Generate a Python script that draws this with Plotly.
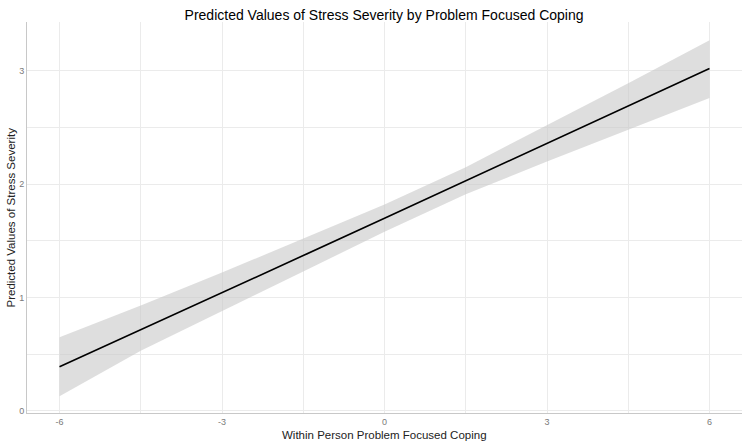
import plotly.graph_objects as go

# within-person problem focused coping (x) and predicted stress severity
coping = [-6, -4.5, -3, -1.5, 0, 1.5, 3, 4.5, 6]
predicted = [0.39, 0.715, 1.04, 1.37, 1.70, 2.03, 2.36, 2.69, 3.02]
ci_low = [0.13, 0.53, 0.88, 1.23, 1.58, 1.91, 2.20, 2.48, 2.76]
ci_high = [0.65, 0.93, 1.22, 1.52, 1.82, 2.15, 2.52, 2.89, 3.27]

x_ticks = [-6, -3, 0, 3, 6]
x_labels = ["-6", "-3", "0", "3", "6"]
y_ticks = [0, 1, 2, 3]

grid = "#ebebeb"
font = "Liberation Sans, Arial, sans-serif"

fig = go.Figure()

# confidence band
fig.add_trace(go.Scatter(
    x=coping + coping[::-1],
    y=ci_high + ci_low[::-1],
    fill="toself",
    fillcolor="rgba(200,200,200,0.6)",
    line=dict(width=0),
    mode="lines",
    hoverinfo="skip",
    showlegend=False,
))

# predicted line
fig.add_trace(go.Scatter(
    x=coping, y=predicted,
    mode="lines",
    line=dict(color="black", width=1.6),
    showlegend=False,
))

fig.update_layout(
    width=745, height=445,
    margin=dict(l=27, r=3, t=22, b=32),
    plot_bgcolor="white", paper_bgcolor="white",
    font=dict(family=font, color="#222"),
    title=dict(text="Predicted Values of Stress Severity by Problem Focused Coping",
               x=0.5155, xanchor="center", y=0.966, yanchor="middle",
               font=dict(size=14, color="black")),
    annotations=[
        dict(text="Within Person Problem Focused Coping", xref="paper", yref="paper",
             x=0.5, y=0, yshift=-22, xanchor="center", yanchor="middle",
             showarrow=False, font=dict(size=11.5, color="#222")),
        dict(text="Predicted Values of Stress Severity", xref="paper", yref="paper",
             x=0, xshift=-17, y=0.5, textangle=-90, xanchor="center", yanchor="middle",
             showarrow=False, font=dict(size=11.5, color="#222")),
    ],
)

fig.update_xaxes(
    range=[-6.6, 6.6], tickvals=x_ticks, ticktext=x_labels, ticks="",
    showgrid=True, gridcolor=grid, gridwidth=1,
    minor=dict(dtick=1.5, tick0=-6, showgrid=True, gridcolor=grid, gridwidth=0.6),
    zeroline=False, showline=True, linecolor="#c8c8c8", linewidth=1,
    tickfont=dict(size=9, color="#7a7a7a"), automargin=False,
)
fig.update_yaxes(
    range=[-0.018, 3.43], tickvals=y_ticks, ticks="", showgrid=True, gridcolor=grid, gridwidth=1,
    minor=dict(dtick=0.5, tick0=0, showgrid=True, gridcolor=grid, gridwidth=0.6),
    zeroline=False, showline=True, linecolor="#c8c8c8", linewidth=1,
    tickfont=dict(size=9, color="#7a7a7a"), automargin=False,
)

fig.write_html("out.html", config={"displayModeBar": False},
               post_script="document.body.style.margin='0';")
